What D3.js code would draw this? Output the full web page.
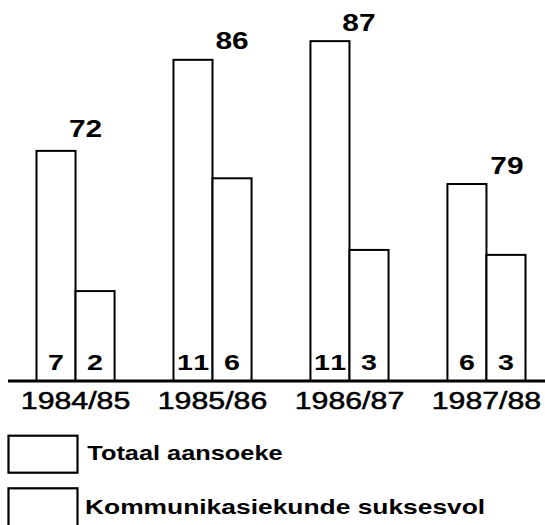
<!DOCTYPE html>
<html>
<head>
<meta charset="utf-8">
<script src="https://cdn.jsdelivr.net/npm/d3@7"></script>
<style>
  html, body { margin: 0; padding: 0; background: #fff; }
  svg { display: block; }
  text { font-family: "Liberation Sans", Arial, Helvetica, sans-serif; fill: #000; }
</style>
</head>
<body>
<svg id="chart" width="545" height="525"></svg>
<script>
// ---- Data ----
const categories = ["1984/85", "1985/86", "1986/87", "1987/88"];
// Labelled totals written above the first bar of each pair
const totalLabels = [72, 86, 87, 79];
// Bar heights as drawn in the original (units of an implied 0-100 scale;
// the hand-drawn bars are not proportional to the labels)
const totalBarHeights = [60.4, 84.3, 89.2, 51.7];
const successBarHeights = [23.6, 53.2, 34.4, 33.1];
// Numbers written at the foot of each bar
const totalFootLabels = [7, 11, 11, 6];
const successFootLabels = [2, 6, 3, 3];
const seriesNames = ["Totaal aansoeke", "Kommunikasiekunde suksesvol"];

// ---- Layout ----
const svg = d3.select("#chart");
const baseY = 381;
const STRETCH = 1.3; // the original lettering is horizontally extended

const x = d3.scaleBand().domain(categories).range([36.5, 525.5]).paddingInner(0.43).paddingOuter(0);
const sub = d3.scaleBand().domain(["total", "success"]).range([0, x.bandwidth()]);
const y = d3.scaleLinear().domain([0, 100]).range([baseY, 0]);

const LABEL_DX = [10, 19.5, 9.5, 20.5];
const LABEL_DY = [-13.4, -10.5, -10.5, -10.5];

function stretchedText(g, tx, ty, str, size, weight, anchor, spacing) {
  const t = g.append("text")
    .attr("transform", `translate(${tx},${ty}) scale(${STRETCH},1)`)
    .attr("text-anchor", anchor || "middle")
    .attr("font-size", size)
    .attr("font-weight", weight || "bold")
    .text(str);
  if (spacing) t.attr("letter-spacing", spacing).attr("dx", spacing / 2);
  return t;
}

const groups = svg.append("g");

categories.forEach((c, i) => {
  const gx = x(c);
  const bw = sub.bandwidth();
  groups.append("rect")
    .attr("x", gx + sub("total"))
    .attr("y", y(totalBarHeights[i]))
    .attr("width", bw)
    .attr("height", baseY - y(totalBarHeights[i]))
    .attr("fill", "#fff").attr("stroke", "#000").attr("stroke-width", 2);
  groups.append("rect")
    .attr("x", gx + sub("success"))
    .attr("y", y(successBarHeights[i]))
    .attr("width", bw)
    .attr("height", baseY - y(successBarHeights[i]))
    .attr("fill", "#fff").attr("stroke", "#000").attr("stroke-width", 2);

  stretchedText(groups, gx + sub("total") + bw + LABEL_DX[i], y(totalBarHeights[i]) + LABEL_DY[i],
    totalLabels[i], 23, "bold");
  stretchedText(groups, gx + sub("total") + bw / 2, baseY - 11.5, totalFootLabels[i], 22, "bold", "middle", 1.5);
  stretchedText(groups, gx + sub("success") + bw / 2, baseY - 11.5, successFootLabels[i], 22, "bold");
});

// baseline
svg.append("line")
  .attr("x1", 8).attr("x2", 545)
  .attr("y1", baseY).attr("y2", baseY)
  .attr("stroke", "#000").attr("stroke-width", 3);

// category labels via axis
const axisG = svg.append("g").attr("transform", `translate(0,${baseY})`)
  .call(d3.axisBottom(x).tickSize(0).tickPadding(0));
axisG.select(".domain").remove();
axisG.selectAll(".tick text")
  .attr("y", 0).attr("dy", 0)
  .attr("transform", `translate(0,27.7) scale(${STRETCH},1)`)
  .attr("font-family", "Liberation Sans, Arial, Helvetica, sans-serif")
  .attr("font-size", 23.3)
  .attr("fill", "#000")
  .attr("stroke", "#000").attr("stroke-width", 0.5)
  .attr("text-anchor", "middle");

// legend
const leg = svg.append("g");
const legRows = [
  { y: 435.7, h: 37, ty: 460, tx: 87.3, size: 19.5 },
  { y: 488.3, h: 42, ty: 514.3, tx: 85, size: 20.3 }
];
seriesNames.forEach((name, i) => {
  const r = legRows[i];
  leg.append("rect")
    .attr("x", 8.5).attr("y", r.y).attr("width", 69).attr("height", r.h)
    .attr("fill", "#fff").attr("stroke", "#000").attr("stroke-width", 2.2);
  stretchedText(leg, r.tx, r.ty, name, r.size, "bold", "start");
});
</script>
</body>
</html>
